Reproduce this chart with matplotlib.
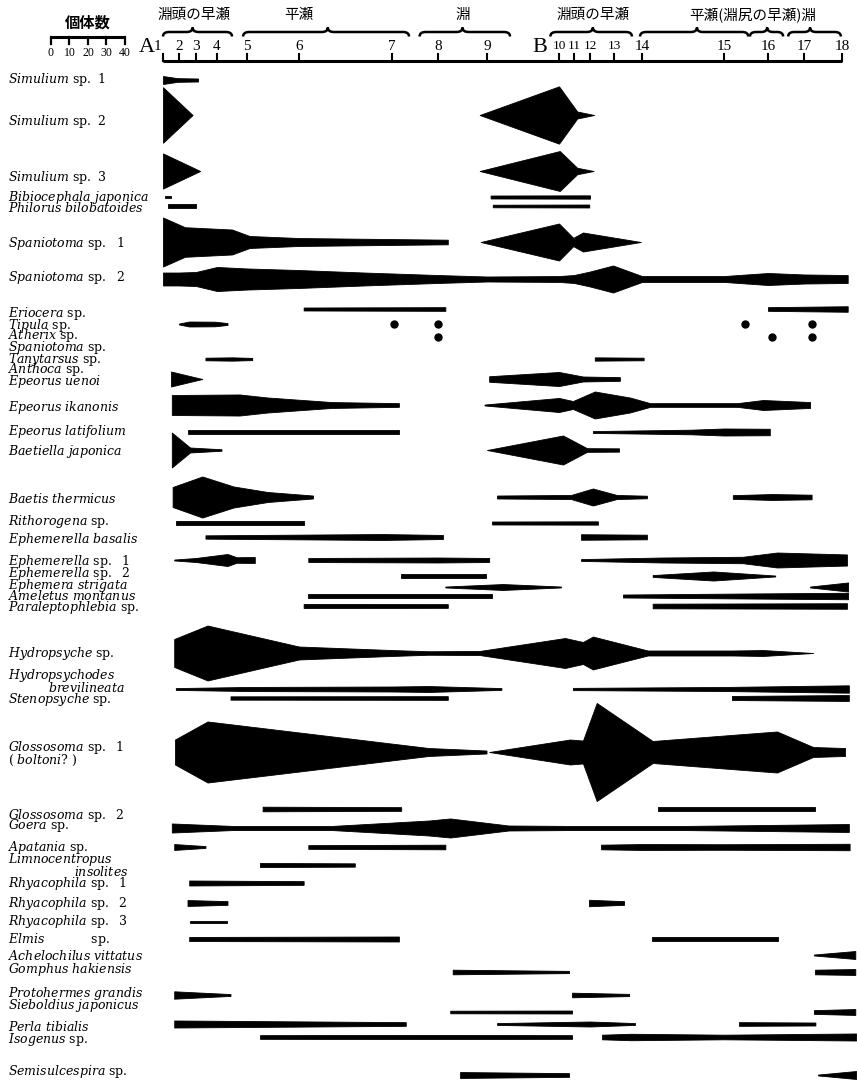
import numpy as np
import matplotlib.pyplot as plt
from matplotlib.path import Path
from matplotlib.patches import PathPatch

plt.rcParams['mathtext.fontset'] = 'custom'
plt.rcParams['mathtext.rm'] = 'DejaVu Serif'
plt.rcParams['mathtext.it'] = 'DejaVu Serif:italic'

# ---- data -------------------------------------------------------------
# stations 1..18 along the stream (A = 1-9, B = 10-18), position on the drawing
station_x = [163, 179, 196, 217, 247, 299, 392, 438, 487,
             559, 574, 590, 614, 642, 724, 768, 804, 842]
station_labels = [str(i) for i in range(1, 19)]

# reach types above the stations: (from, to, peak) in station units
reach_spans = [(1.0, 4.5, 2.8), (4.87, 7.37, 6.31), (7.6, 9.32, 8.5),
               (9.88, 13.64, 12.12), (13.93, 15.55, 14.67),
               (15.59, 16.42, 15.98), (16.56, 17.97, 17.16)]
reach_names = ["淵頭の早瀬", "平瀬", "淵", "淵頭の早瀬", "平瀬(淵尻の早瀬)淵"]
reach_name_at = [2.9, 6.0, 8.5, 12.12, 15.66]

scale_ticks = [0, 10, 20, 30, 40]   # individuals

species = [
    "Simulium sp. 1", "Simulium sp. 2", "Simulium sp. 3",
    "Bibiocephala japonica", "Philorus bilobatoides",
    "Spaniotoma sp.  1", "Spaniotoma sp.  2",
    "Eriocera sp.", "Tipula sp.", "Atherix sp.", "Spaniotoma sp.",
    "Tanytarsus sp.", "Anthoca sp.", "Epeorus uenoi",
    "Epeorus ikanonis", "Epeorus latifolium", "Baetiella japonica",
    "Baetis thermicus", "Rithorogena sp.", "Ephemerella basalis",
    "Ephemerella sp.  1", "Ephemerella sp.  2", "Ephemera strigata",
    "Ameletus montanus", "Paraleptophlebia sp.",
    "Hydropsyche sp.", "Hydropsychodes\nbrevilineata", "Stenopsyche sp.",
    "Glossosoma sp.  1\n( boltoni? )", "Glossosoma sp.  2", "Goera sp.",
    "Apatania sp.", "Limnocentropus\ninsolites",
    "Rhyacophila sp.  1", "Rhyacophila sp.  2", "Rhyacophila sp.  3",
    "Elmis            sp.", "Achelochilus vittatus", "Gomphus hakiensis",
    "Protohermes grandis", "Sieboldius japonicus", "Perla tibialis",
    "Isogenus sp.", "Semisulcespira sp.",
]

# kite segments per species: (station positions, number of individuals)
kites = [
    [([1, 1.9, 3.1], [4.3, 2, 1.6])],
    [([1, 2.8], [30, 0]), ([8.85, 10, 11.2, 12.17], [0, 31, 3.8, 0])],
    [([1, 3.2], [19, 0]), ([8.85, 10.05, 11.2, 12.15], [0, 21.6, 3.5, 0])],
    [([1.1, 1.5], [1.6, 1.6]), ([9.05, 12.0], [1.6, 1.8])],
    [([1.3, 3.0], [1.8, 1.8]), ([9.08, 11.95], [1.4, 1.6])],
    [([1, 2.35, 4.5, 5.05, 6, 8.2], [26.5, 16, 13.5, 6.5, 4.3, 2.5]),
     ([8.87, 10, 10.95, 11.56, 13.96], [0, 20, 4.5, 10.3, 0])],
    [([1, 2, 3, 4, 5, 6, 6.7, 8, 9, 10, 11, 12, 12.96, 14, 15, 16, 17, 18.15],
      [7, 7, 7.6, 13, 11.4, 9.7, 7, 4.3, 2.7, 3.2, 4.3, 8.1, 14.6, 3.2, 3.2,
       6.5, 4.9, 4.3])],
    [([6.05, 8.15], [1.6, 2]), ([16.0, 18.15], [2, 3])],
    [([2.0, 2.6, 3.9, 4.35], [0.5, 2.7, 2.5, 1])],
    [],
    [],
    [([3.45, 4.5, 5.1], [1.4, 1.8, 1.2]), ([12.2, 14.02], [1.8, 1.4])],
    [],
    [([1.5, 3.3], [8.1, 0]), ([9.03, 10.0, 11.56, 13.21], [3, 7.6, 2.7, 2])],
    [([1.55, 4.75, 5.4, 6.35, 7.15], [10.8, 11.4, 8.1, 3.2, 2]),
     ([8.95, 10, 10.93, 12.2, 13.57, 14.1, 15.3, 15.89, 17.16],
      [0.5, 7.6, 4.3, 14.6, 8.1, 2, 2, 5.4, 3.2])],
    [([2.55, 7.15], [2.7, 2.7]), ([12.12, 14.6, 15.0, 16.05], [1, 2.5, 3.8, 3.5])],
    [([1.55, 2.65, 4.15], [18.9, 2.7, 0.8]),
     ([9.0, 10.27, 11.81, 13.18], [0, 15.7, 2, 1.8])],
    [([1.6, 3.3, 4.55, 5.4, 6.15], [10.8, 22.2, 11.4, 5.4, 1.6]),
     ([9.14, 10.8, 12.12, 13.1, 14.06], [1.6, 2.2, 9.2, 2.2, 1.4]),
     ([15.2, 16.1, 17.2], [2, 3.2, 2.5])],
    [([1.8, 6.05], [1.8, 1.8]), ([9.07, 12.33], [1.6, 1.8])],
    [([3.45, 6.9, 8.1], [1.8, 3.2, 2.2]), ([11.44, 14.06], [3, 2.5])],
    [([1.7, 3.0, 4.35, 4.65, 5.15], [0.5, 2.2, 6.5, 3, 3.2]),
     ([6.1, 8.0, 9.03], [2.2, 2.7, 2.2]),
     ([11.44, 14.25, 15.43, 16.25, 18.13], [1, 2.7, 3.5, 8.1, 6])],
    [([7.2, 8.98], [2.2, 2.2]), ([14.13, 14.87, 16.2], [1, 4.9, 0.5])],
    [([8.15, 9.22, 10.13], [0.5, 3.2, 0.5]), ([17.16, 18.16], [0.5, 4.9])],
    [([6.1, 9.07], [2.2, 2.2]), ([13.32, 15.5, 18.16], [1.6, 2.7, 3.5])],
    [([6.05, 8.2], [2.2, 2]), ([14.13, 18.13], [2.5, 3])],
    [([1.7, 3.55, 6.0, 7.0, 7.8, 8.85, 10.4, 11.56, 12.12, 14.07, 15.2, 15.89, 17.24],
      [15.1, 29.7, 7, 3.2, 1.9, 2.2, 16.2, 11.9, 17.8, 2.7, 2.7, 3.2, 0])],
    [([1.8, 5, 7, 7.8, 9.2], [1, 2.2, 2.7, 3.2, 1]), ([10.93, 15, 18.18], [1.2, 2.2, 4])],
    [([4.45, 8.2], [1.8, 2]), ([15.18, 18.18], [2.2, 3.2])],
    [([1.75, 3.55, 7.8, 8.99], [13.5, 33, 4.3, 1.6]),
     ([9.03, 10.73, 11.56, 12.28, 14.13, 16.25, 17.24, 18.08],
      [0, 13.5, 12.4, 53, 11.9, 22.2, 5.4, 4.3])],
    [([5.3, 7.2], [2.5, 2]), ([14.2, 17.29], [2, 2])],
    [([1.55, 4.55, 6.35, 7.8, 8.25, 9.3, 11.0, 14.5, 18.18],
      [4.9, 2.2, 2.2, 8.1, 10.3, 2.7, 2.2, 2.2, 4.3])],
    [([1.7, 3.45], [3.2, 1]), ([6.1, 8.15], [2, 2.5]),
     ([12.46, 14, 15, 18.2], [2.5, 3.2, 3, 3.5])],
    [([5.25, 6.6], [2.2, 1.8])],
    [([2.6, 6.05], [2.7, 2])],
    [([2.5, 4.35], [3.2, 2]), ([11.94, 13.36], [3.5, 2])],
    [([2.65, 4.35], [1.6, 1.6])],
    [([2.6, 7.15], [2.2, 2.7]), ([14.12, 16.28], [2.7, 2.7])],
    [([17.26, 18.35], [0.5, 4.3])],
    [([8.3, 10.67], [2.5, 1.2]), ([17.29, 18.35], [2.5, 3.2])],
    [([1.7, 4.45], [4, 1]), ([10.87, 13.54], [2.5, 1.2])],
    [([8.25, 10.87], [1.4, 1.6]), ([17.26, 18.35], [2, 3.2])],
    [([1.7, 7.3], [3.8, 2]), ([9.14, 12.0, 13.75], [1, 2.7, 1]), ([15.34, 17.3], [2, 1.6])],
    [([5.25, 7.8, 10.87], [2, 2.2, 2]), ([12.5, 13.6, 15, 18.37], [2.5, 3.5, 2.5, 3.8])],
    [([8.45, 10.67], [3.2, 2]), ([17.37, 18.37], [0.5, 4.3])],
]

# single specimens (drawn as dots)
dots = {"Tipula sp.": [7.05, 8, 15.48, 17.2], "Atherix sp.": [8, 16.1, 17.2]}

# ---- layout (pixels of the 857 x 1081 drawing) ------------------------
kite_y = [80, 115, 171, 197, 206, 242, 279, 309, 324, 337, 348, 359, 370, 379,
          405, 432, 450, 497, 523, 537, 560, 576, 587, 596, 606, 653, 689, 698,
          752, 809, 828, 847, 865, 883, 903, 922, 939, 955, 972, 995, 1012,
          1024, 1037, 1075]
label_y = [80, 121, 177, 198, 208, 244, 277, 314, 325, 336, 348, 359, 370, 382,
           408, 431, 452, 499, 522, 539, 562, 574, 585, 596, 607, 653, 675, 700,
           748, 815, 826, 847, 860, 884, 903, 922, 940, 956, 969, 994, 1005,
           1027, 1040, 1072]
second_line_indent = {"Hydropsychodes\nbrevilineata": 40,
                      "Limnocentropus\ninsolites": 66}

px_per_ind = 74 / 40.0   # scale bar: 40 individuals
scale_x0 = 51
axis_y = 61
label_fs = 9

idx = np.arange(1, 19)


def sx(s):
    s = np.asarray(s, float)
    x = np.interp(s, idx, station_x)
    slope = station_x[-1] - station_x[-2]
    return np.where(s > 18, station_x[-1] + (s - 18) * slope, x)


def as_math(name):
    parts = []
    for w in name.split(" "):
        if w == "":
            parts.append("")
        elif w == "sp.":
            parts.append(r"\mathrm{sp.}")
        else:
            parts.append(r"\mathit{%s}" % w)
    return "$" + r"\ ".join(parts) + "$"


def brace(ax, x0, x1, xm, y):
    h = 4.5
    d = 6
    verts = [(x0, y + h), (x0, y), (x0 + d, y), (xm - d, y), (xm, y), (xm, y - h),
             (xm, y), (xm + d, y), (x1 - d, y), (x1, y), (x1, y + h)]
    codes = [Path.MOVETO, Path.CURVE3, Path.CURVE3, Path.LINETO, Path.CURVE3,
             Path.CURVE3, Path.CURVE3, Path.CURVE3, Path.LINETO, Path.CURVE3,
             Path.CURVE3]
    ax.add_patch(PathPatch(Path(verts, codes), fill=False, lw=1.8, color="black"))


fig = plt.figure(figsize=(8.57, 10.81), dpi=100)
ax = fig.add_axes([0, 0, 1, 1])
ax.set_xlim(0, 857)
ax.set_ylim(1081, 0)
ax.axis("off")

cjk = ["Noto Sans CJK JP", "DejaVu Sans"]

# scale bar
sc_x = scale_x0 + np.array(scale_ticks) * px_per_ind
ax.plot([sc_x[0], sc_x[-1]], [37, 37], color="black", lw=2.2, solid_capstyle="butt")
for x, v in zip(sc_x, scale_ticks):
    ax.plot([x, x], [37, 44], color="black", lw=1.6)
    ax.text(x, 53, str(v), ha="center", va="center", fontsize=8.5,
            family="Liberation Serif")
ax.text(sc_x.mean(), 23, "個体数", ha="center", va="center", fontsize=11,
        family=cjk, fontweight="bold")

# station axis
sxp = sx(idx)
ax.plot([sxp[0], sxp[-1]], [axis_y, axis_y], color="black", lw=2.2,
        solid_capstyle="butt")
for i, (x, lab) in enumerate(zip(sxp, station_labels)):
    ax.plot([x, x], [axis_y, axis_y - 7], color="black", lw=1.5)
    fs = 9.5 if 9 <= i <= 12 else 11
    dx = -6 if i == 0 else 0
    ax.text(x + dx, 46, lab, ha="center", va="center", fontsize=fs,
            family="Liberation Serif")
ax.text(147, 48, "A", ha="center", va="center", fontsize=16, family="Liberation Serif")
ax.text(540, 48, "B", ha="center", va="center", fontsize=16, family="Liberation Serif")

# reaches
for a, b, m in reach_spans:
    brace(ax, sx(a), sx(b), sx(m), 32)
for name, s in zip(reach_names, reach_name_at):
    ax.text(sx(s), 15, name, ha="center", va="center", fontsize=10.5, family=cjk)

# species labels
for name, y in zip(species, label_y):
    lines = name.split("\n")
    ax.text(8, y, as_math(lines[0]), ha="left", va="center", fontsize=label_fs)
    if len(lines) > 1:
        ax.text(8 + second_line_indent.get(name, 0), y + 12.5, as_math(lines[1]),
                ha="left", va="center", fontsize=label_fs)

# kites
for segs, y in zip(kites, kite_y):
    for st, n in segs:
        x = sx(st)
        half = np.array(n) * px_per_ind / 2
        ax.fill_between(x, y - half, y + half, color="black", lw=0.6,
                        edgecolor="black", joinstyle="round")

for name, stations in dots.items():
    y = kite_y[species.index(name)]
    ax.plot(sx(stations), [y] * len(stations), "o", color="black", ms=5)

fig.savefig("out.png", dpi=100, facecolor="white")
